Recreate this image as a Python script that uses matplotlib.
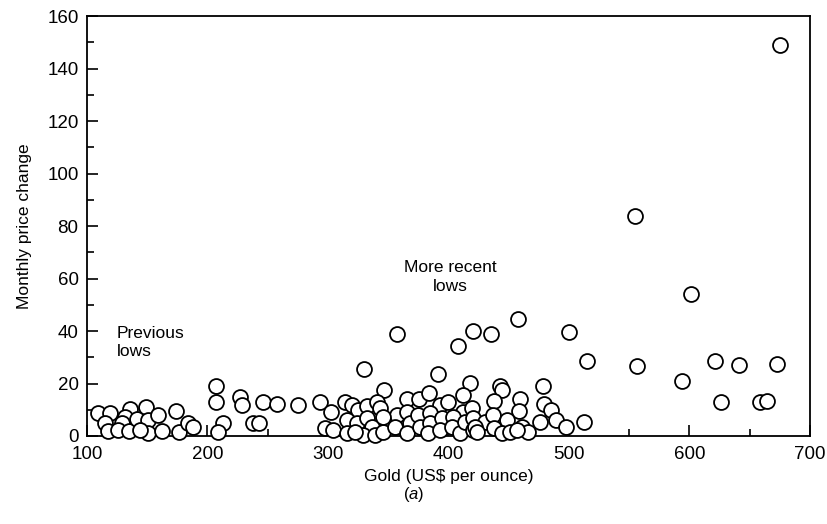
import matplotlib
matplotlib.use("Agg")
import matplotlib.pyplot as plt
from matplotlib.ticker import MultipleLocator

plt.rcParams["font.family"] = ["Liberation Sans", "DejaVu Sans"]
plt.rcParams["mathtext.fontset"] = "custom"
plt.rcParams["mathtext.it"] = "Liberation Sans:italic"
plt.rcParams["mathtext.rm"] = "Liberation Sans"

# gold price (US$ per ounce) at each low, and the monthly price change
gold = [
    109.4, 119.1, 114.9, 117.7, 135.7, 131.5, 128.8, 126.0, 135.1, 141.2,
    149.0, 150.9, 150.9, 144.0, 159.2, 162.0, 173.9, 176.6, 184.1, 188.2,
    207.1, 207.1, 227.0, 228.4, 245.8, 258.0, 213.1, 209.0, 237.5, 243.0,
    274.9, 293.4, 297.5,
    329.9, 391.6, 417.9, 411.8, 346.5, 302.3, 304.4, 314.1, 319.7, 325.2,
    332.6, 340.4, 343.2, 365.3, 375.8, 384.1, 393.0, 399.9, 411.8, 419.3,
    315.5, 315.5, 323.8, 332.1, 336.3, 328.8, 339.0, 348.7, 345.9, 357.0,
    355.6, 365.3, 368.1, 365.3, 374.9, 376.4, 384.7, 384.7, 383.3, 394.4,
    393.0, 404.0, 402.7, 409.6, 413.7, 420.6, 420.6, 345.9, 322.4,
    357.0, 408.2, 420.1, 435.0, 458.0,
    514.7, 556.2, 442.8, 444.2, 437.8, 459.4, 458.8, 478.7, 479.3, 484.8,
    489.2, 497.5, 512.5, 476.0, 430.3, 437.2, 437.8, 448.3, 444.2, 451.1,
    460.8, 466.3, 456.6, 422.0, 423.4,
    621.2, 641.4, 673.0, 593.6, 626.0, 658.6, 664.1,
    500.0, 555.0, 601.0, 675.0,
]
change = [
    8.7, 8.7, 4.9, 2.0, 10.2, 7.4, 5.1, 2.3, 2.0, 6.4,
    11.0, 6.1, 1.0, 2.3, 8.0, 2.0, 9.7, 1.6, 4.9, 3.6,
    18.9, 13.1, 14.8, 11.9, 12.8, 12.3, 4.9, 1.6, 5.1, 5.1,
    11.9, 13.1, 3.0,
    25.5, 23.8, 20.2, 15.7, 17.4, 9.3, 2.3, 13.1, 11.9, 10.0,
    11.5, 13.1, 10.6, 14.1, 14.1, 16.4, 11.9, 13.1, 9.3, 10.6,
    6.1, 1.0, 4.9, 6.8, 3.6, 0.4, 0.4, 4.9, 1.6, 8.0,
    3.6, 9.3, 4.9, 1.0, 8.0, 3.6, 8.7, 4.9, 1.0, 6.8,
    2.3, 7.4, 3.6, 1.0, 5.5, 6.8, 2.3, 7.4, 1.6,
    38.7, 34.2, 40.0, 38.7, 44.7,
    28.5, 26.8, 18.9, 17.6, 13.5, 14.1, 9.7, 18.9, 12.3, 10.0,
    5.9, 3.6, 5.5, 5.5, 5.5, 8.0, 3.0, 6.1, 1.0, 1.6,
    3.6, 1.6, 2.3, 3.6, 1.6,
    28.5, 27.2, 27.6, 20.8, 12.8, 12.8, 13.5,
    39.5, 84.0, 54.0, 149.0,
]

fig = plt.figure(figsize=(8.28, 5.24), dpi=100)
ax = fig.add_axes([0.105, 0.168, 0.873, 0.801])

ax.scatter(gold, change, s=115, facecolor="white", edgecolor="black",
           linewidths=1.3, zorder=3, clip_on=False)

ax.set_xlim(100, 700)
ax.set_ylim(0, 160)
ax.xaxis.set_major_locator(MultipleLocator(100))
ax.xaxis.set_minor_locator(MultipleLocator(50))
ax.yaxis.set_major_locator(MultipleLocator(20))
ax.yaxis.set_minor_locator(MultipleLocator(10))
ax.tick_params(which="both", direction="in", top=False, right=False,
               labelsize=13.5, width=1.2)
ax.tick_params(which="major", length=8)
ax.tick_params(which="minor", length=5)
ax.tick_params(axis="y", pad=6)
ax.tick_params(axis="x", pad=7.5)
for sp in ax.spines.values():
    sp.set_linewidth(1.3)

ax.set_xlabel(r"Gold (US\$ per ounce)", fontsize=12.5, labelpad=4)
ax.set_ylabel("Monthly price change", fontsize=12.5, labelpad=11)

ax.text(125, 42, "Previous\nlows", fontsize=12.5, ha="left", va="top",
        linespacing=1.3)
ax.text(402, 67, "More recent\nlows", fontsize=12.5, ha="center", va="top",
        linespacing=1.3)

fig.text(0.5, 0.056, r"($\mathit{a}$)", fontsize=12, ha="center", va="center")

fig.savefig("out.png", dpi=100)
